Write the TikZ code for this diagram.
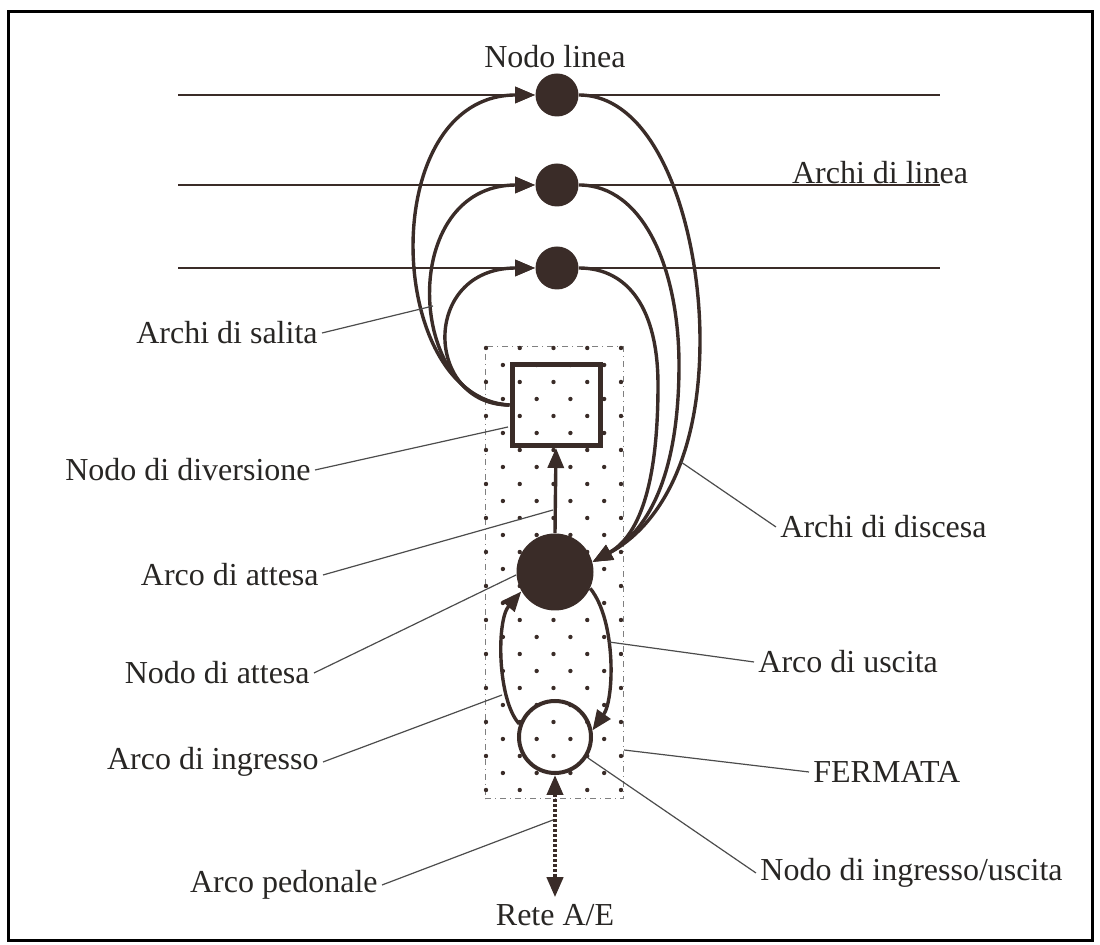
\documentclass[tikz,border=0pt]{standalone}
\usepackage{fontspec}
\setmainfont{Liberation Serif}
\usepackage{tikz}
\usetikzlibrary{arrows.meta,positioning,shapes.geometric}
\definecolor{ink}{RGB}{58,44,40}
\definecolor{txt}{RGB}{40,38,36}

\begin{document}
\begin{tikzpicture}[x=0.5pt, y=-0.5pt, every node/.style={font=\fontsize{16}{19}\selectfont, text=txt}]
\tikzstyle{linenode} = [circle, fill=ink, inner sep=0pt, minimum size=21.5pt]
\tikzstyle{waitnode} = [circle, fill=ink, inner sep=0pt, minimum size=38.5pt]
\tikzstyle{ionode} = [circle, draw=ink, line width=2pt, inner sep=0pt, minimum size=36pt]
\tikzstyle{divnode} = [rectangle, draw=ink, line width=2.5pt, inner sep=0pt, minimum width=44pt, minimum height=40.5pt]
\tikzstyle{stopbox} = [rectangle, draw=gray, line width=0.5pt, dash dot, inner sep=0pt, minimum width=69pt, minimum height=226pt]
\tikzstyle{hline} = [draw=ink, line width=1.4pt]
\tikzstyle{arc} = [draw=ink, line width=1.7pt, -{Triangle[length=10pt,width=8pt]}]
\tikzstyle{walk} = [draw=ink, line width=2pt, dash pattern=on 1.5pt off 1pt, {Triangle[length=10pt,width=8pt]}-{Triangle[length=10pt,width=8pt]}]
\tikzstyle{leader} = [draw=gray!60!black, line width=0.6pt]
\tikzstyle{lab} = [inner sep=2pt]

\useasboundingbox (0,0) rectangle (1100,945);
\draw[line width=1.5pt] (8,12) rectangle (1092,941);

% fermata with its dots
\node[stopbox] (stop) at (554,573) {};
\begin{scope}
\clip (482,345) rectangle (626,802);
\foreach \r in {0,...,26} {
  \pgfmathsetmacro{\yy}{348+17*\r}
  \pgfmathsetmacro{\xo}{mod(\r,2)*16.9}
  \foreach \k in {0,...,4}
    \fill[ink] ({486+\xo+33.75*\k},\yy) circle (1.1pt);
}
\end{scope}

% nodes
\foreach \i/\y in {1/95,2/185,3/268} {
  \node[linenode] (l\i) at (557,\y) {};
  \coordinate (a\i) at (178,\y);
  \coordinate (b\i) at (940,\y);
}
\node[divnode] (div) at (556,405) {};
\node[waitnode] (wait) at (555,572) {};
\node[ionode] (io) at (555,737) {};
\node (rete) at (555,915) {Rete A/E};

% line arcs
\foreach \i in {1,2,3} {
  \draw[arc, line width=1.4pt] (a\i) -- (l\i);
  \draw[hline] (l\i) -- (b\i);
}

% boarding arcs
\draw[arc] (div.west) .. controls +(-125,-7) and +(-160,0) .. (l1.west);
\draw[arc] (div.west) .. controls +(-103,-2) and +(-138,0) .. (l2.west);
\draw[arc] (div.west) .. controls +(-85,0) and +(-115,0) .. (l3.west);

% alighting arcs
\draw[arc] (l1.east) .. controls +(80,0) and +(0,-110) .. (700,340) .. controls +(0,120) and +(65,-35) .. (wait.15);
\draw[arc] (l2.east) .. controls +(65,0) and +(0,-95) .. (679,365) .. controls +(0,105) and +(58,-32) .. (wait.15);
\draw[arc] (l3.east) .. controls +(50,0) and +(0,-75) .. (658,385) .. controls +(0,90) and +(50,-28) .. (wait.15);

% waiting, exit, entry, walk
\draw[arc] (wait.north) -- (div.south);
\draw[arc] (wait.-25) .. controls +(26,32) and +(22,-31) .. (io.10);
\draw[arc] (io.160) .. controls +(-22,-24) and +(-25,29) .. (wait.210);
\draw[walk] (io.south) -- (rete.north);

% labels
\node (lnodo) at (555,57) {Nodo linea};
\node[anchor=base, inner sep=0pt] (llinea) at (880,184) {Archi di linea};
\node[lab, anchor=east] (lsalita) at (322,333) {Archi di salita};
\node[lab, anchor=east] (ldiv) at (315,470) {Nodo di diversione};
\node[lab, anchor=east] (lattarc) at (323,575) {Arco di attesa};
\node[lab, anchor=east] (lattnode) at (314,673) {Nodo di attesa};
\node[lab, anchor=east] (lingr) at (323,762) {Arco di ingresso};
\node[lab, anchor=east] (lped) at (382,885) {Arco pedonale};
\node[lab, anchor=west] (ldisc) at (776,527) {Archi di discesa};
\node[lab, anchor=west] (lusc) at (754,662) {Arco di uscita};
\node[lab, anchor=west] (lstop) at (809,772) {FERMATA};
\node[lab, anchor=west] (lio) at (756,873) {Nodo di ingresso/uscita};

% leader ends
\coordinate (psalita) at (433,306);
\coordinate (pdiv) at (508,427);
\coordinate (pattarc) at (553,510);
\coordinate (pattnode) at (516,575);
\coordinate (pingr) at (502,695);
\coordinate (pped) at (553,820);
\coordinate (pdisc) at (681,462);
\coordinate (pusc) at (609,642);
\coordinate (pstop) at (624,750);
\coordinate (pio) at (588,758);

\draw[leader] (lsalita.east) -- (psalita);
\draw[leader] (ldiv.east) -- (pdiv);
\draw[leader] (lattarc.east) -- (pattarc);
\draw[leader] (lattnode.east) -- (pattnode);
\draw[leader] (lingr.east) -- (pingr);
\draw[leader] (lped.east) -- (pped);
\draw[leader] (ldisc.west) -- (pdisc);
\draw[leader] (lusc.west) -- (pusc);
\draw[leader] (lstop.west) -- (pstop);
\draw[leader] (lio.west) -- (pio);
\end{tikzpicture}
\end{document}
